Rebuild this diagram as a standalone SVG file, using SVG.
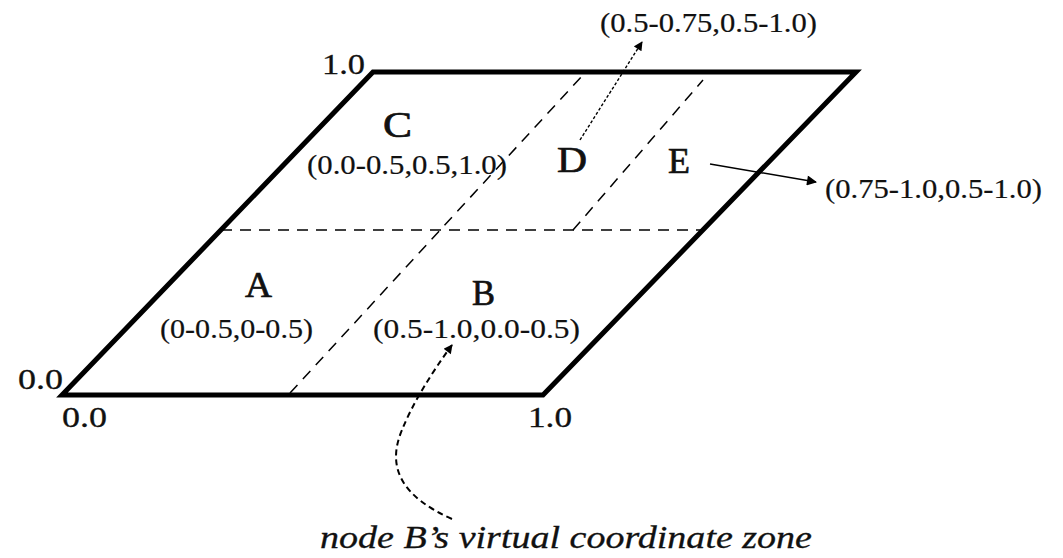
<svg xmlns="http://www.w3.org/2000/svg" width="1063" height="558" viewBox="0 0 1063 558">
<style>
.t{font-family:"Liberation Serif","DejaVu Serif",serif;fill:#111}
.lbl{font-size:36px;stroke:#111;stroke-width:0.7}
.co{font-size:28px;stroke:#111;stroke-width:0.2}
.ax{font-size:29px;stroke:#111;stroke-width:0.3}
.it{font-family:"Liberation Serif","DejaVu Serif",serif;font-style:italic;font-size:31px;fill:#111;stroke:#111;stroke-width:0.3}
.dash{fill:none;stroke:#000;stroke-width:1.5;stroke-dasharray:11 8}
.dot{fill:none;stroke:#000;stroke-width:1.4;stroke-dasharray:3 2}
.curve{fill:none;stroke:#000;stroke-width:2;stroke-dasharray:6 4}
</style>
<defs>
<marker id="ah" viewBox="0 0 10 10" refX="9" refY="5" markerWidth="11" markerHeight="9" markerUnits="userSpaceOnUse" orient="auto">
<path d="M0,0 L10,5 L0,10 z" fill="#000"/>
</marker>
<marker id="ah2" viewBox="0 0 10 10" refX="9" refY="5" markerWidth="14" markerHeight="10" markerUnits="userSpaceOnUse" orient="auto">
<path d="M0,0 L10,5 L0,10 z" fill="#000"/>
</marker>
</defs>
<g id="plane">
<path d="M62,395 L543,395 L856,72 L373,72 Z" fill="none" stroke="#000" stroke-width="5" stroke-linejoin="miter"/>
</g>
<g id="zone-lines">
<line class="dash" x1="221" y1="230" x2="702" y2="230"/>
<line class="dash" x1="290" y1="393" x2="583" y2="75"/>
<line class="dash" x1="573" y1="230" x2="703" y2="80"/>
</g>
<g id="axis-labels">
<text class="t ax" x="322" y="74" textLength="43" lengthAdjust="spacingAndGlyphs">1.0</text>
<text class="t ax" x="18" y="389" textLength="45" lengthAdjust="spacingAndGlyphs">0.0</text>
<text class="t ax" x="62" y="427" textLength="45" lengthAdjust="spacingAndGlyphs">0.0</text>
<text class="t ax" x="528" y="427" textLength="44" lengthAdjust="spacingAndGlyphs">1.0</text>
</g>
<g id="node-A">
<text class="t lbl" x="245" y="297" textLength="27" lengthAdjust="spacingAndGlyphs">A</text>
<text class="t co" x="160" y="338" textLength="153" lengthAdjust="spacingAndGlyphs">(0-0.5,0-0.5)</text>
</g>
<g id="node-B">
<text class="t lbl" x="472" y="305" textLength="23" lengthAdjust="spacingAndGlyphs">B</text>
<text class="t co" x="373" y="338" textLength="207" lengthAdjust="spacingAndGlyphs">(0.5-1.0,0.0-0.5)</text>
</g>
<g id="node-C">
<text class="t lbl" x="383" y="137" textLength="29" lengthAdjust="spacingAndGlyphs">C</text>
<text class="t co" x="307" y="174" textLength="200" lengthAdjust="spacingAndGlyphs">(0.0-0.5,0.5,1.0)</text>
</g>
<g id="node-D">
<text class="t lbl" x="557" y="172" textLength="30" lengthAdjust="spacingAndGlyphs">D</text>
<text class="t co" x="600" y="32" textLength="217" lengthAdjust="spacingAndGlyphs">(0.5-0.75,0.5-1.0)</text>
</g>
<g id="node-E">
<text class="t lbl" x="668" y="173" textLength="22" lengthAdjust="spacingAndGlyphs">E</text>
<text class="t co" x="825" y="198" textLength="217" lengthAdjust="spacingAndGlyphs">(0.75-1.0,0.5-1.0)</text>
</g>
<g id="caption">
<text class="it" x="320" y="548" textLength="492" lengthAdjust="spacingAndGlyphs">node B’s virtual coordinate zone</text>
</g>
<g id="connectors">
<line class="dot" x1="580" y1="140" x2="642" y2="42" marker-end="url(#ah)"/>
<line x1="710" y1="164" x2="816" y2="182" stroke="#000" stroke-width="1.4" marker-end="url(#ah2)"/>
<path class="curve" d="M452,519 C405,498 385,470 402,430 C412,405 430,375 452,345" marker-end="url(#ah)"/>
</g>
</svg>
